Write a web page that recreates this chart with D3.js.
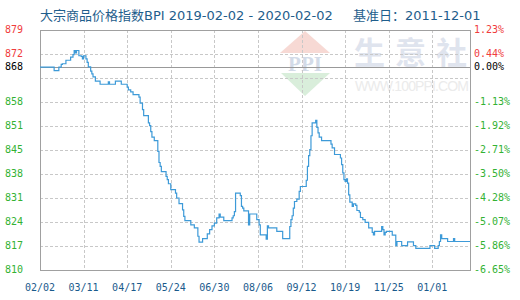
<!DOCTYPE html>
<html>
<head>
<meta charset="utf-8">
<script src="https://cdn.jsdelivr.net/npm/d3@7"></script>
<style>
  body { margin: 0; background: #fff; }
  svg { display: block; }
  .lbl { font-family: "DejaVu Sans Mono", monospace; font-size: 10px; }
</style>
</head>
<body>
<svg id="chart"></svg>
<script>
// BPI daily values, only days where it changes
const dates = [
  "2019-02-02","2019-02-14","2019-02-18","2019-02-20","2019-02-21","2019-02-24","2019-02-28",
  "2019-03-02","2019-03-03","2019-03-04","2019-03-05","2019-03-07","2019-03-09","2019-03-10",
  "2019-03-11","2019-03-13","2019-03-14","2019-03-15","2019-03-17","2019-03-18","2019-03-19",
  "2019-03-21","2019-03-25","2019-04-01","2019-04-02","2019-04-07","2019-04-12","2019-04-17",
  "2019-04-18","2019-04-20","2019-04-22","2019-04-27","2019-04-28","2019-04-30","2019-05-01",
  "2019-05-05","2019-05-06","2019-05-07","2019-05-08","2019-05-10","2019-05-13","2019-05-14",
  "2019-05-15","2019-05-16","2019-05-20","2019-05-21","2019-05-22","2019-05-24","2019-05-28",
  "2019-05-29","2019-05-31","2019-06-03","2019-06-04","2019-06-05","2019-06-10","2019-06-13",
  "2019-06-16","2019-06-17","2019-06-20","2019-06-24","2019-06-26","2019-06-28","2019-06-30",
  "2019-07-02","2019-07-04","2019-07-05","2019-07-08","2019-07-15","2019-07-16","2019-07-17",
  "2019-07-18","2019-07-22","2019-07-23","2019-07-24","2019-07-25","2019-07-29","2019-07-30",
  "2019-08-05","2019-08-07","2019-08-08","2019-08-13","2019-08-14","2019-08-15","2019-08-22",
  "2019-08-27","2019-09-02","2019-09-03","2019-09-04","2019-09-05","2019-09-06","2019-09-08",
  "2019-09-10","2019-09-11","2019-09-16","2019-09-17","2019-09-18","2019-09-19","2019-09-20",
  "2019-09-21","2019-09-24","2019-09-25","2019-09-26","2019-09-27","2019-09-29","2019-10-07",
  "2019-10-08","2019-10-10","2019-10-15","2019-10-16","2019-10-17","2019-10-18","2019-10-19",
  "2019-10-20","2019-10-21","2019-10-22","2019-10-23","2019-10-25","2019-10-26","2019-10-28",
  "2019-10-29","2019-10-31","2019-11-01","2019-11-03","2019-11-05","2019-11-08","2019-11-11",
  "2019-11-12","2019-11-13","2019-11-19","2019-11-20","2019-11-21","2019-11-22","2019-11-23",
  "2019-11-28","2019-12-01","2019-12-02","2019-12-06","2019-12-11","2019-12-16","2019-12-18",
  "2019-12-30","2020-01-03","2020-01-06","2020-01-07","2020-01-08","2020-01-09","2020-01-14",
  "2020-01-19","2020-01-20","2020-02-02"
];
const values = [
  868.3, 867.3, 868.3, 869.1, 869.3, 870.3, 871.2,
  871.9, 873.1, 872.4, 873.1, 871.6, 871.4, 870.7,
  871.6, 870.7, 869.7, 868.4, 867.2, 866.4, 865.5,
  864.3, 863.4, 864.1, 863.4, 864.3, 863.4, 862.6,
  861.8, 861.2, 860.4, 859.7, 858.0, 856.1, 854.4,
  852.3, 851.5, 849.8, 848.2, 847.2, 844.1, 840.9,
  839.8, 838.3, 836.9, 836.0, 834.8, 833.1, 832.1,
  830.7, 829.1, 827.3, 825.4, 824.2, 823.0, 822.1,
  819.7, 818.0, 819.0, 820.4, 821.6, 822.7, 823.5,
  825.0, 826.1, 825.2, 824.2, 825.0, 825.6, 826.8,
  832.1, 831.4, 828.3, 827.8, 827.0, 823.0, 826.1,
  824.5, 823.0, 820.1, 818.9, 822.7, 822.1, 821.1,
  819.0, 822.5, 824.5, 825.6, 827.8, 829.7, 830.4,
  832.6, 834.0, 835.8, 839.8, 842.9, 844.6, 848.6,
  852.3, 853.0, 851.0, 849.4, 848.2, 847.2, 846.2,
  845.1, 843.2, 842.2, 840.3, 837.9, 836.0, 835.5,
  836.2, 835.0, 831.6, 829.5, 828.3, 829.0, 828.6,
  827.1, 826.6, 825.1, 824.5, 823.7, 822.1, 820.8,
  820.1, 821.1, 822.5, 821.6, 820.1, 820.8, 821.1,
  820.0, 817.0, 818.2, 817.0, 818.1, 817.0, 816.2,
  817.0, 816.2, 817.0, 818.2, 820.1, 819.0, 818.2,
  819.0, 818.2, 818.2
];

const xTickDates = ["2019-02-02","2019-03-11","2019-04-17","2019-05-24","2019-06-30",
  "2019-08-06","2019-09-12","2019-10-19","2019-11-25","2020-01-01"];
const xTickLabels = ["02/02","03/11","04/17","05/24","06/30","08/06","09/12","10/19","11/25","01/01"];

// 11 evenly spaced grid rows from 810 to 879; the row next to the base has no label
const yTickLabels = ["810","817","824","831","838","845","851","858","","872","879"];
const pctTickLabels = ["-6.65%","-5.86%","-5.07%","-4.28%","-3.50%","-2.71%","-1.92%","-1.13%","","0.44%","1.23%"];
const yMin = 810, yMax = 879;
const baseValue = 868.3, baseLabel = "868", basePct = "0.00%";

const titleText = "大宗商品价格指数BPI 2019-02-02 - 2020-02-02";
const baseDateText = "基准日：2011-12-01";
const wmChars = ["生", "意", "社"];

let width = 520, height = 300;
let plotLeft = 40, plotRight = 470, plotTop = 30, plotBottom = 270;

let parse = d3.timeParse("%Y-%m-%d");
let data = dates.map((d, i) => ({ date: parse(d), value: values[i] }));

let svg = d3.select("#chart").attr("width", width).attr("height", height);

let x = d3.scaleTime()
  .domain([parse("2019-02-02"), parse("2020-02-02")])
  .range([plotLeft, plotRight]);
let y = d3.scaleLinear().domain([yMin, yMax]).range([plotBottom, plotTop]);

// title
svg.append("text")
  .attr("x", 40).attr("y", 20)
  .style("font-family", "'DejaVu Sans', 'Noto Sans CJK SC', sans-serif")
  .style("font-size", "13px")
  .attr("fill", "#1f5e8c")
  .text(titleText);
svg.append("text")
  .attr("x", 353).attr("y", 20)
  .style("font-family", "'DejaVu Sans', 'Noto Sans CJK SC', sans-serif")
  .style("font-size", "13px")
  .attr("fill", "#1f5e8c")
  .text(baseDateText);

// watermark
let wm = svg.append("g");
wm.append("path")
  .attr("d", "M305,31 L330,53 L280,53 Z")
  .attr("fill", "#f7d9d4");
wm.append("path")
  .attr("d", "M281,73 L330,73 L305,96 Z")
  .attr("fill", "#d9eedb");
wm.append("text")
  .attr("x", 305).attr("y", 71)
  .attr("text-anchor", "middle")
  .style("font-family", "'Liberation Serif', serif")
  .style("font-weight", "bold")
  .style("font-size", "21px")
  .attr("fill", "#d3dbe8")
  .text("PPI");
wm.selectAll(".wmc")
  .data(wmChars)
  .enter()
  .append("text")
  .attr("class", "wmc")
  .attr("x", (d, i) => 354 + i * 41)
  .attr("y", 64)
  .style("font-family", "'Noto Sans CJK SC', sans-serif")
  .style("font-weight", "bold")
  .style("font-size", "31px")
  .attr("fill", "#dfe4ee")
  .text((d) => d);
wm.append("text")
  .attr("x", 355).attr("y", 91)
  .attr("textLength", 114)
  .style("font-family", "'Liberation Sans', sans-serif")
  .style("font-size", "14px")
  .attr("fill", "#ebebeb")
  .text("WWW.100PPI.COM");

// grid
let gridVals = d3.range(11).map((i) => yMin + (i * (yMax - yMin)) / 10);
svg.append("g")
  .selectAll("line")
  .data(gridVals.slice(1, 10))
  .enter()
  .append("line")
  .attr("x1", plotLeft).attr("x2", plotRight)
  .attr("y1", (d) => Math.round(y(d)) + 0.5)
  .attr("y2", (d) => Math.round(y(d)) + 0.5)
  .attr("stroke", "#c8c8c8")
  .attr("stroke-dasharray", "3,2");
svg.append("g")
  .selectAll("line")
  .data(xTickDates.slice(1))
  .enter()
  .append("line")
  .attr("x1", (d) => Math.round(x(parse(d))) + 0.5)
  .attr("x2", (d) => Math.round(x(parse(d))) + 0.5)
  .attr("y1", plotTop).attr("y2", plotBottom)
  .attr("stroke", "#c8c8c8")
  .attr("stroke-dasharray", "3,2");

// base line
svg.append("line")
  .attr("x1", plotLeft).attr("x2", plotRight)
  .attr("y1", Math.round(y(baseValue)) + 0.5)
  .attr("y2", Math.round(y(baseValue)) + 0.5)
  .attr("stroke", "#999");

// frame
svg.append("rect")
  .attr("x", plotLeft + 0.5).attr("y", plotTop + 0.5)
  .attr("width", plotRight - plotLeft).attr("height", plotBottom - plotTop)
  .attr("fill", "none")
  .attr("stroke", "#a0a0a0");

// left & right labels
let colorOf = (v) => (v > baseValue ? "#f03c3c" : "#33b233");
svg.append("g")
  .selectAll("text")
  .data(gridVals)
  .enter()
  .append("text")
  .attr("class", "lbl")
  .attr("x", 23)
  .attr("y", (d) => y(d) + 3)
  .attr("text-anchor", "end")
  .attr("fill", colorOf)
  .text((d, i) => yTickLabels[i]);
svg.append("g")
  .selectAll("text")
  .data(gridVals)
  .enter()
  .append("text")
  .attr("class", "lbl")
  .attr("x", 474)
  .attr("y", (d) => y(d) + 3)
  .attr("fill", colorOf)
  .text((d, i) => pctTickLabels[i]);
svg.append("text")
  .attr("class", "lbl")
  .attr("x", 23).attr("y", y(baseValue) + 3)
  .attr("text-anchor", "end")
  .attr("fill", "#000")
  .text(baseLabel);
svg.append("text")
  .attr("class", "lbl")
  .attr("x", 474).attr("y", y(baseValue) + 3)
  .attr("fill", "#000")
  .text(basePct);

// x labels
svg.append("g")
  .selectAll("text")
  .data(xTickDates)
  .enter()
  .append("text")
  .attr("class", "lbl")
  .attr("x", (d) => x(parse(d)))
  .attr("y", 291)
  .attr("text-anchor", "middle")
  .attr("fill", "#1a5a8c")
  .text((d, i) => xTickLabels[i]);

// index line
let line = d3.line()
  .x((d) => x(d.date))
  .y((d) => y(d.value))
  .curve(d3.curveStepAfter);
svg.append("path")
  .datum(data)
  .attr("d", line)
  .attr("fill", "none")
  .attr("stroke", "#3d9ad8")
  .attr("stroke-width", 1.2);
</script>
</body>
</html>
